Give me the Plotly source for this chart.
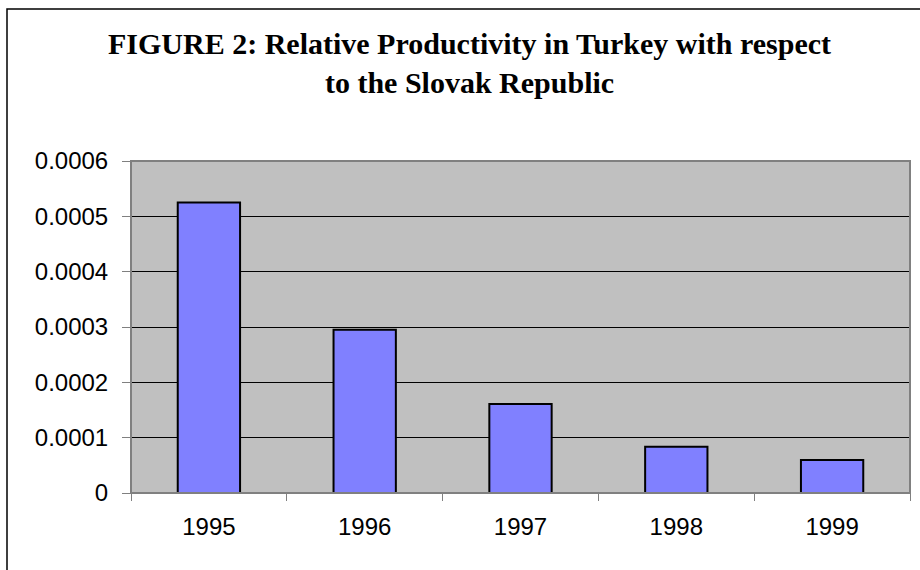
import plotly.graph_objects as go

# Relative productivity of Turkey vs. the Slovak Republic, by year
years = ["1995", "1996", "1997", "1998", "1999"]
productivity = [0.000525, 0.000295, 0.000161, 0.0000835, 0.0000595]

y_tick_values = [0, 0.0001, 0.0002, 0.0003, 0.0004, 0.0005, 0.0006]
y_tick_labels = ["0", "0.0001", "0.0002", "0.0003", "0.0004", "0.0005", "0.0006"]

chart_title = "FIGURE 2: Relative Productivity in Turkey with respect<br>to the Slovak Republic"

W, H = 920, 570
# plot-area edges in pixels
PL, PR, PT, PB = 131, 910, 161, 493

fig = go.Figure(
    go.Bar(
        x=years,
        y=productivity,
        marker=dict(color="#8080FF", line=dict(color="#000000", width=2)),
        hoverinfo="x+y",
        xaxis="x", yaxis="y",
    )
)

# outer chart frame (left and top edges; right and bottom run off the page),
# drawn on a hidden full-page axis pair
frame_x = 7 / W
frame_y = 1 - 9 / H
fig.add_trace(go.Scatter(
    x=[frame_x, frame_x, 1.0],
    y=[0.0, frame_y, frame_y],
    mode="lines",
    line=dict(color="#000000", width=1.5),
    xaxis="x2", yaxis="y2",
    hoverinfo="skip",
))

# grey plot-area background, kept beneath the gridlines and bars
fig.add_shape(type="rect", xref="paper", yref="paper",
              x0=PL / W, x1=PR / W, y0=1 - PB / H, y1=1 - PT / H,
              line=dict(width=0), fillcolor="#C0C0C0", layer="below")
# plot-area border
fig.add_shape(type="rect", xref="paper", yref="paper",
              x0=PL / W, x1=PR / W, y0=1 - PB / H, y1=1 - PT / H,
              line=dict(color="#808080", width=2), layer="above")

# chart title
fig.add_annotation(
    text=chart_title,
    xref="paper", yref="paper",
    x=469 / W, y=1 - 63 / H,
    xanchor="center", yanchor="middle",
    showarrow=False,
    align="center",
    font=dict(family="Liberation Serif", size=30, color="#000000", weight="bold"),
)

fig.update_layout(
    width=W,
    height=H,
    margin=dict(l=0, r=0, t=0, b=0, pad=0, autoexpand=False),
    paper_bgcolor="#FFFFFF",
    plot_bgcolor="rgba(0,0,0,0)",
    showlegend=False,
    bargap=0.6,
    font=dict(family="Liberation Sans", size=24, color="#000000"),
    xaxis=dict(
        type="category",
        domain=[PL / W, PR / W],
        anchor="y",
        automargin=False,
        showgrid=False,
        showline=True,
        linecolor="#000000",
        linewidth=1,
        ticks="outside",
        tickson="boundaries",
        ticklen=7,
        tickcolor="#808080",
        tickwidth=1,
        ticklabelstandoff=12,
        tickfont=dict(family="Liberation Sans", size=24, color="#000000"),
    ),
    yaxis=dict(
        domain=[1 - PB / H, 1 - PT / H],
        anchor="x",
        automargin=False,
        range=[0, 0.0006],
        tickvals=y_tick_values,
        ticktext=y_tick_labels,
        showgrid=True,
        gridcolor="#000000",
        gridwidth=1,
        zeroline=False,
        showline=True,
        linecolor="#808080",
        linewidth=1,
        ticks="outside",
        ticklen=8,
        tickcolor="#808080",
        tickwidth=1,
        ticklabelstandoff=9,
        tickfont=dict(family="Liberation Sans", size=24, color="#000000"),
    ),
    xaxis2=dict(domain=[0, 1], range=[0, 1], visible=False, fixedrange=True,
                anchor="y2", automargin=False),
    yaxis2=dict(domain=[0, 1], range=[0, 1], visible=False, fixedrange=True,
                anchor="x2", automargin=False),
)

fig.write_html("out.html")
